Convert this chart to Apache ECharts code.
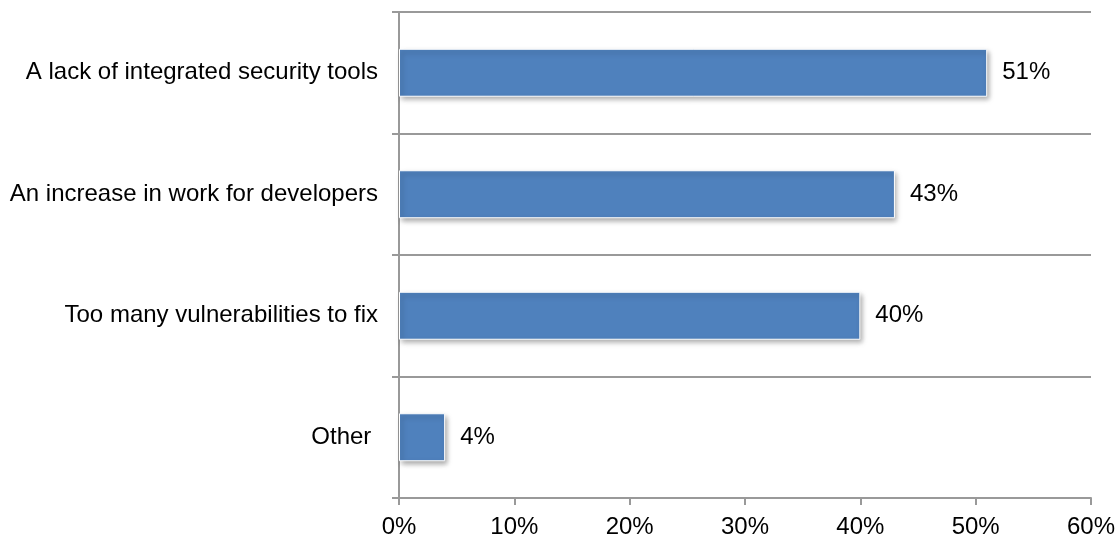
<!DOCTYPE html>
<html>
<head>
<meta charset="utf-8">
<script src="https://cdn.jsdelivr.net/npm/echarts@6/dist/echarts.min.js"></script>
<style>
  html, body { margin: 0; padding: 0; background: #fff; }
  #chart { width: 1120px; height: 540px; }
</style>
</head>
<body>
<div id="chart"></div>
<script>
// Reasons cited, top to bottom
const categories = [
  'A lack of integrated security tools',
  'An increase in work for developers',
  'Too many vulnerabilities to fix',
  'Other '
];
// Share of respondents (%)
const values = [51, 43, 40, 4];
// X axis range and step (%)
const axisMax = 60;
const axisStep = 10;

const font = '"Liberation Sans", Arial, sans-serif';
const gridColor = '#999999';

const chart = echarts.init(document.getElementById('chart'));
chart.setOption({
  animation: false,
  grid: { left: 399, right: 29, top: 12, bottom: 42, containLabel: false },
  xAxis: {
    type: 'value',
    min: 0,
    max: axisMax,
    interval: axisStep,
    axisLine: { show: true, lineStyle: { color: gridColor, width: 2 } },
    axisTick: { show: true, length: 7, lineStyle: { color: gridColor, width: 2 } },
    splitLine: { show: false },
    axisLabel: {
      formatter: '{value}%',
      color: '#000',
      fontFamily: font,
      fontSize: 24,
      margin: 17
    }
  },
  yAxis: {
    type: 'category',
    data: categories,
    inverse: true,
    axisLine: { show: true, lineStyle: { color: gridColor, width: 2 } },
    axisTick: { show: true, length: 7, lineStyle: { color: gridColor, width: 2 } },
    splitLine: { show: true, lineStyle: { color: gridColor, width: 2 } },
    axisLabel: {
      color: '#000',
      fontFamily: font,
      fontSize: 24,
      margin: 21
    }
  },
  series: [{
    type: 'bar',
    data: values,
    barWidth: '39.5%',
    itemStyle: {
      color: '#4F81BD',
      borderColor: '#ffffff',
      borderWidth: 1,
      shadowColor: 'rgba(0,0,0,0.35)',
      shadowBlur: 5,
      shadowOffsetX: 2,
      shadowOffsetY: 3
    },
    label: {
      show: true,
      position: 'right',
      distance: 15,
      formatter: '{c}%',
      color: '#000',
      fontFamily: font,
      fontSize: 24
    }
  }]
});
</script>
</body>
</html>
